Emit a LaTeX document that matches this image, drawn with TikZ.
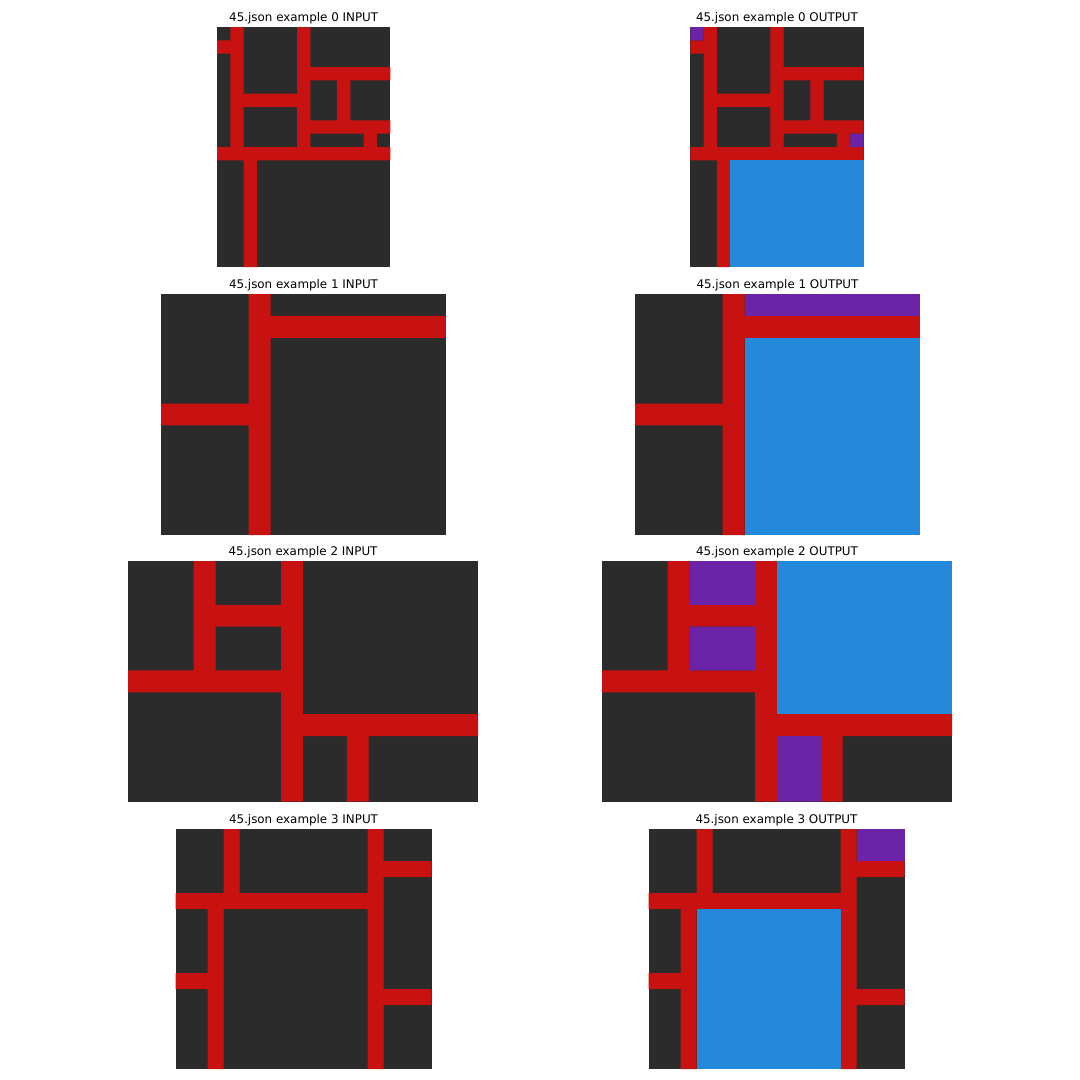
\documentclass[tikz,border=0pt]{standalone}
\usepackage{fontspec}
\setmainfont{DejaVu Sans}
\definecolor{arcbg}{HTML}{2B2B2B}
\definecolor{arcred}{HTML}{C81212}
\definecolor{arcblue}{HTML}{2489DA}
\definecolor{arcpurple}{HTML}{6B24A8}
\newcommand\exzerored{%
  \fill[arcred] (0,1) rectangle (1,2) (1,0) rectangle (2,9) (6,0) rectangle (7,9)
    (7,3) rectangle (13,4) (9,4) rectangle (10,7) (7,7) rectangle (13,8)
    (11,8) rectangle (12,9) (2,5) rectangle (6,6) (0,9) rectangle (13,10)
    (2,10) rectangle (3,18);}
\newcommand\exonered{%
  \fill[arcred] (4,0) rectangle (5,11) (5,1) rectangle (13,2) (0,5) rectangle (4,6);}
\newcommand\extwored{%
  \fill[arcred] (3,0) rectangle (4,5) (4,2) rectangle (7,3) (7,0) rectangle (8,11)
    (0,5) rectangle (7,6) (8,7) rectangle (16,8) (10,8) rectangle (11,11);}
\newcommand\exthreered{%
  \fill[arcred] (3,0) rectangle (4,4) (0,4) rectangle (12,5) (12,0) rectangle (13,15)
    (13,2) rectangle (16,3) (2,5) rectangle (3,15) (0,9) rectangle (2,10)
    (13,10) rectangle (16,11);}
\begin{document}
\begin{tikzpicture}[x=1pt,y=-1pt,
  paneltitle/.style={anchor=base,font=\fontsize{11.9}{14}\selectfont,inner sep=0pt}]
\useasboundingbox[fill=white] (0,0) rectangle (1080,1080);

% ---------- example 0 ----------
\node[paneltitle] (t0i) at (303.7,21) {45.json example 0 INPUT};
\node[paneltitle] (t0o) at (777,21) {45.json example 0 OUTPUT};
\begin{scope}[shift={(217,27)},x=13.333pt,y=-13.333pt]
  \fill[arcbg] (0,0) rectangle (13,18);
  \exzerored
\end{scope}
\begin{scope}[shift={(690.3,27)},x=13.333pt,y=-13.333pt]
  \fill[arcbg] (0,0) rectangle (13,18);
  \exzerored
  \fill[arcpurple] (0,0) rectangle (1,1) (12,8) rectangle (13,9);
  \fill[arcblue] (3,10) rectangle (13,18);
\end{scope}

% ---------- example 1 ----------
\node[paneltitle] (t1i) at (303.5,288) {45.json example 1 INPUT};
\node[paneltitle] (t1o) at (777.5,288) {45.json example 1 OUTPUT};
\begin{scope}[shift={(161.1,294)},x=21.91pt,y=-21.91pt]
  \fill[arcbg] (0,0) rectangle (13,11);
  \exonered
\end{scope}
\begin{scope}[shift={(635.1,294)},x=21.91pt,y=-21.91pt]
  \fill[arcbg] (0,0) rectangle (13,11);
  \exonered
  \fill[arcpurple] (5,0) rectangle (13,1);
  \fill[arcblue] (5,2) rectangle (13,11);
\end{scope}

% ---------- example 2 ----------
\node[paneltitle] (t2i) at (303,555) {45.json example 2 INPUT};
\node[paneltitle] (t2o) at (777,555) {45.json example 2 OUTPUT};
\begin{scope}[shift={(128,561)},x=21.875pt,y=-21.875pt]
  \fill[arcbg] (0,0) rectangle (16,11);
  \extwored
\end{scope}
\begin{scope}[shift={(602,561)},x=21.875pt,y=-21.875pt]
  \fill[arcbg] (0,0) rectangle (16,11);
  \extwored
  \fill[arcpurple] (4,0) rectangle (7,2) (4,3) rectangle (7,5) (8,8) rectangle (10,11);
  \fill[arcblue] (8,0) rectangle (16,7);
\end{scope}

% ---------- example 3 ----------
\node[paneltitle] (t3i) at (303.5,823) {45.json example 3 INPUT};
\node[paneltitle] (t3o) at (776.5,823) {45.json example 3 OUTPUT};
\begin{scope}[shift={(175.5,829)},x=16pt,y=-16pt]
  \fill[arcbg] (0,0) rectangle (16,15);
  \exthreered
\end{scope}
\begin{scope}[shift={(648.5,829)},x=16pt,y=-16pt]
  \fill[arcbg] (0,0) rectangle (16,15);
  \exthreered
  \fill[arcpurple] (13,0) rectangle (16,2);
  \fill[arcblue] (3,5) rectangle (12,15);
\end{scope}
\end{tikzpicture}
\end{document}
